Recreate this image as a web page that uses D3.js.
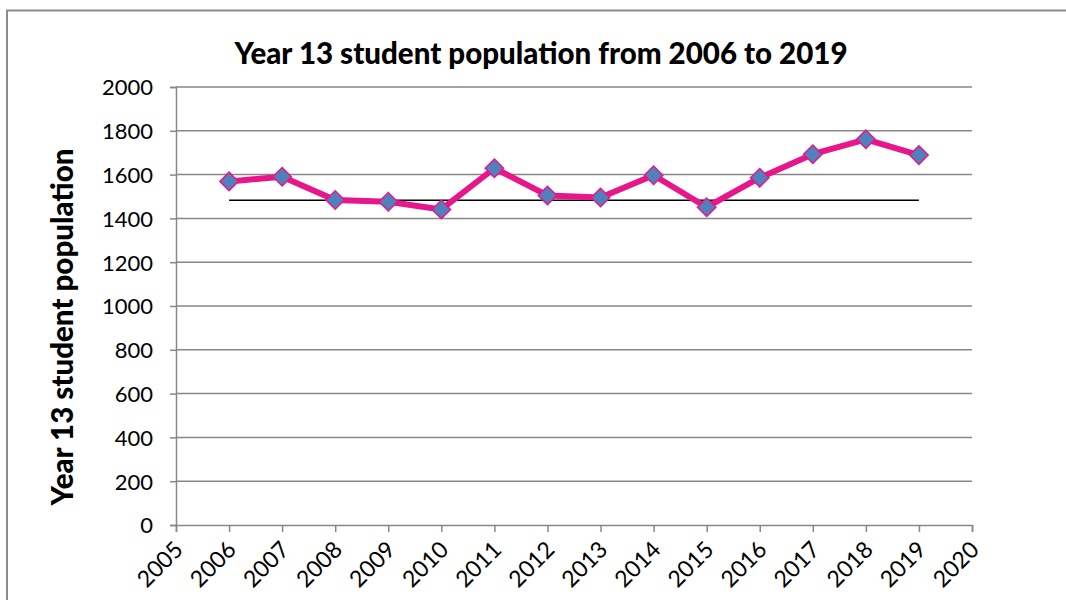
<!DOCTYPE html>
<html>
<head>
<meta charset="utf-8">
<script src="https://cdn.jsdelivr.net/npm/d3@7/dist/d3.min.js"></script>
<style>
  html, body { margin: 0; padding: 0; background: #fff; }
  svg { display: block; }
  text { font-family: Lato, "Open Sans", sans-serif; fill: #000; }
</style>
</head>
<body>
<svg id="chart" width="1066" height="600"></svg>
<script>
// Year 13 headcount per year
const years = [2006, 2007, 2008, 2009, 2010, 2011, 2012, 2013, 2014, 2015, 2016, 2017, 2018, 2019];
const population = [1569, 1590, 1484, 1476, 1441, 1629, 1505, 1495, 1597, 1451, 1586, 1693, 1761, 1689];
// Flat reference level drawn across the series
const referenceLevel = [1483, 1483];
const referenceYears = [2006, 2019];
const yTicks = [0, 200, 400, 600, 800, 1000, 1200, 1400, 1600, 1800, 2000];
const xTicks = d3.range(2005, 2021);

const titleText = "Year 13 student population from 2006 to 2019";
const yLabelText = "Year 13 student population";

const svg = d3.select("#chart");
const W = 1066, H = 600;
const plot = { left: 176, right: 972, top: 87, bottom: 525 };

// Outer frame (top and left edges)
svg.append("path")
  .attr("d", `M7,${H} V10.5 H${W}`)
  .attr("fill", "none")
  .attr("stroke", "#8c8c8c")
  .attr("stroke-width", 2);

const x = d3.scaleLinear().domain([2005, 2020]).range([plot.left, plot.right]);
const y = d3.scaleLinear().domain([0, 2000]).range([plot.bottom, plot.top]);

const gridColor = "#878787";

// Horizontal gridlines
svg.append("g")
  .selectAll("line")
  .data(yTicks.filter(d => d > 0))
  .join("line")
  .attr("x1", plot.left).attr("x2", plot.right)
  .attr("y1", d => y(d)).attr("y2", d => y(d))
  .attr("stroke", gridColor)
  .attr("stroke-width", 1.5);

// Y axis
const yAxis = svg.append("g")
  .attr("transform", `translate(${plot.left},0)`)
  .call(d3.axisLeft(y).tickValues(yTicks).tickSize(6).tickPadding(18).tickFormat(d3.format("d")));
yAxis.select(".domain").attr("stroke", gridColor).attr("stroke-width", 1.5);
yAxis.selectAll(".tick line").attr("stroke", gridColor).attr("stroke-width", 1.5);
yAxis.selectAll(".tick text")
  .style("font-size", "22px")
  .style("font-family", "Lato, sans-serif")
  .attr("fill", "#000")
  .attr("x", -23)
  .attr("dy", "0.36em");

// X axis
const xAxis = svg.append("g")
  .attr("transform", `translate(0,${plot.bottom})`)
  .call(d3.axisBottom(x).tickValues(xTicks).tickSize(7).tickFormat(d3.format("d")));
xAxis.select(".domain").attr("stroke", gridColor).attr("stroke-width", 1.5);
xAxis.selectAll(".tick line").attr("stroke", gridColor).attr("stroke-width", 1.5);
xAxis.selectAll(".tick text")
  .style("font-size", "23px")
  .style("font-family", "Lato, sans-serif")
  .attr("fill", "#000")
  .attr("text-anchor", "end")
  .attr("dy", null)
  .attr("y", 0)
  .attr("transform", "translate(8,26) rotate(-45)");

// Reference level
svg.append("line")
  .attr("x1", x(referenceYears[0])).attr("x2", x(referenceYears[1]))
  .attr("y1", y(referenceLevel[0])).attr("y2", y(referenceLevel[1]))
  .attr("stroke", "#000")
  .attr("stroke-width", 1.6);

// Series line
const pts = years.map((yr, i) => [yr, population[i]]);
svg.append("path")
  .datum(pts)
  .attr("d", d3.line().x(d => x(d[0])).y(d => y(d[1])))
  .attr("fill", "none")
  .attr("stroke", "#e8168b")
  .attr("stroke-width", 6)
  .attr("stroke-linejoin", "round");

// Diamond markers
const diamond = d3.symbol().type(d3.symbolSquare).size(170);
svg.append("g")
  .selectAll("path")
  .data(pts)
  .join("path")
  .attr("d", diamond)
  .attr("transform", d => `translate(${x(d[0])},${y(d[1])}) rotate(45)`)
  .attr("fill", "#4f81bd")
  .attr("stroke", "#e8168b")
  .attr("stroke-width", 1.5);

// Title
svg.append("text")
  .attr("x", 541)
  .attr("y", 64)
  .attr("text-anchor", "middle")
  .style("font-size", "29.5px")
  .style("font-weight", "900")
  .text(titleText);

// Y axis label
svg.append("text")
  .attr("transform", `translate(73,${(148 + 506) / 2}) rotate(-90)`)
  .attr("text-anchor", "middle")
  .style("font-size", "29.5px")
  .style("font-weight", "900")
  .text(yLabelText);
</script>
</body>
</html>
